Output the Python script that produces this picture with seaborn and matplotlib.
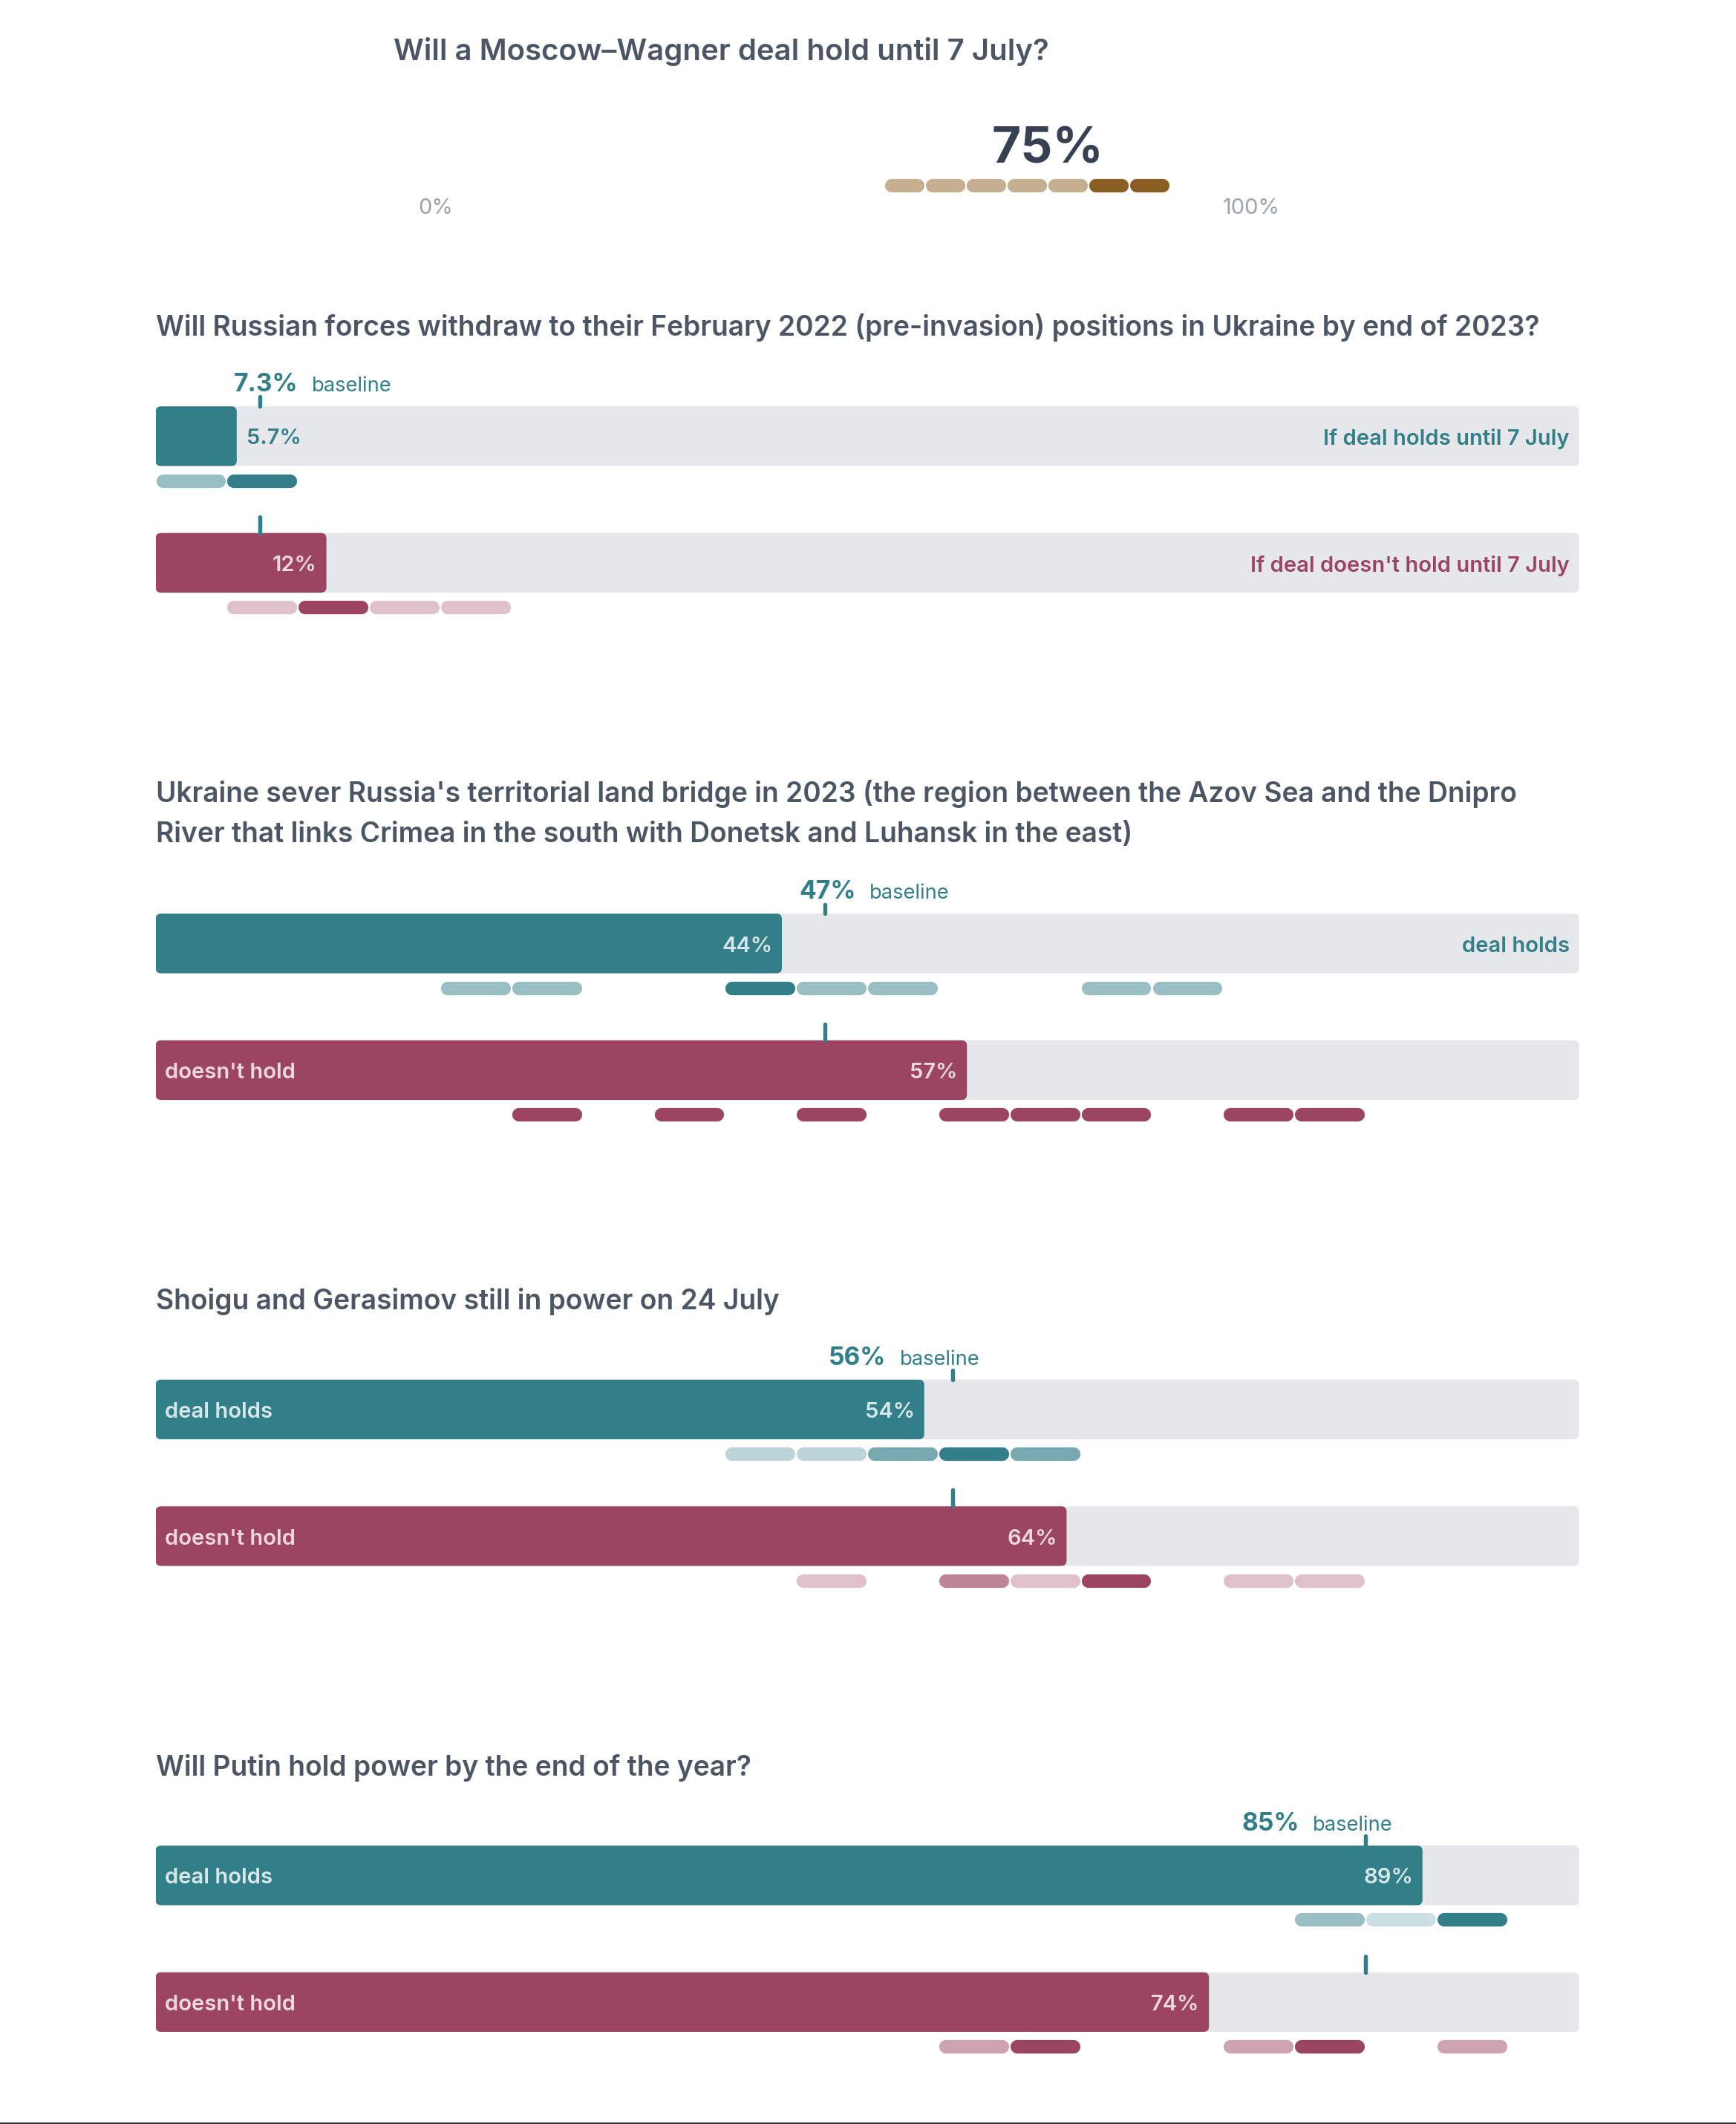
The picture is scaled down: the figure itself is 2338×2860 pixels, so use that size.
import numpy as np
import pandas as pd
import matplotlib
matplotlib.use("Agg")
from matplotlib import pyplot as plt
from matplotlib.patches import FancyBboxPatch
from matplotlib.lines import Line2D
from matplotlib.colors import to_rgb
from matplotlib.transforms import blended_transform_factory
import seaborn as sns

# Data

top_title = "Will a Moscow\u2013Wagner deal hold until 7 July?"
top_value = 75
top_bins = [55, 60, 65, 70, 75, 80, 85]
top_counts = [1, 1, 1, 1, 1, 2, 2]

titles = [
    "Will Russian forces withdraw to their February 2022 (pre-invasion) positions in Ukraine by end of 2023?",
    "Ukraine sever Russia's territorial land bridge in 2023 (the region between the Azov Sea and the Dnipro\n"
    "River that links Crimea in the south with Donetsk and Luhansk in the east)",
    "Shoigu and Gerasimov still in power on 24 July",
    "Will Putin hold power by the end of the year?",
]
baselines = [7.3, 47, 56, 85]
baseline_labels = ["7.3%", "47%", "56%", "85%"]
holds_values = [5.7, 44, 54, 89]
holds_value_labels = ["5.7%", "44%", "54%", "89%"]
nohold_values = [12, 57, 64, 74]
nohold_value_labels = ["12%", "57%", "64%", "74%"]
holds_names = ["If deal holds until 7 July", "deal holds", "deal holds", "deal holds"]
nohold_names = ["If deal doesn't hold until 7 July", "doesn't hold", "doesn't hold", "doesn't hold"]

# forecaster estimates, binned in 5% steps (bin start, count)
holds_bins = [[0, 5], [20, 25, 40, 45, 50, 65, 70], [40, 45, 50, 55, 60], [80, 85, 90]]
holds_counts = [[1, 2], [1, 1, 2, 1, 1, 1, 1], [1, 1, 2, 3, 2], [2, 1, 4]]
nohold_bins = [[5, 10, 15, 20], [25, 35, 45, 55, 60, 65, 75, 80],
               [45, 55, 60, 65, 75, 80], [55, 60, 75, 80, 90]]
nohold_counts = [[1, 3, 1, 1], [1, 1, 1, 1, 1, 1, 1, 1],
                 [1, 2, 1, 3, 1, 1], [1, 2, 1, 2, 1]]

# Styling

TEAL = "#337f89"
MAROON = "#9c4562"
TAN = "#8b5e23"
TRACK = "#e5e7eb"
TITLE_C = "#4b5563"
BIG_C = "#374151"
AXIS_C = "#9ca3af"
ON_TEAL = "#d8e7e9"
ON_MAROON = "#ecd8de"

sns.set_theme(style="white")
plt.rcParams["font.family"] = ["Inter", "DejaVu Sans"]

W_REF, H_REF = 1283, 1568          # layout grid (reference px)
fig = plt.figure(figsize=(23.38, 28.60), dpi=100)
FIG_W = fig.get_figwidth() * fig.dpi
PX = FIG_W / W_REF                 # layout px -> output px
PT = PX * 72 / fig.dpi             # layout px -> points


def fx(x):
    return x / W_REF


def fy(y):
    return 1 - y / H_REF


def tint(color, a):
    r = np.array(to_rgb(color))
    return tuple(1 - a * (1 - r))


def ax_units(ax):
    pos = ax.get_position()
    w = pos.width * FIG_W
    h = pos.height * fig.get_figheight() * fig.dpi
    x0, x1 = ax.get_xlim()
    y0, y1 = ax.get_ylim()
    return abs(x1 - x0) / w, abs(y1 - y0) / h


def pills(ax, bins, counts, y, color, h_px=10):
    ux, _ = ax_units(ax)
    cap = h_px / 2 * PX * ux
    gap = 0.5 * PX * ux
    mx = max(counts)
    for b, c in zip(bins, counts):
        ax.plot([b + gap + cap, b + 5 - gap - cap], [y, y], color=tint(color, c / mx),
                lw=h_px * PT, solid_capstyle="round", zorder=3)


def round_bars(ax, r_px=4):
    ux, uy = ax_units(ax)
    for p in list(ax.patches):
        fb = FancyBboxPatch((p.get_x(), p.get_y()), p.get_width(), p.get_height(),
                            boxstyle=f"round,pad=0,rounding_size={r_px * PX * ux}",
                            mutation_aspect=uy / ux, fc=p.get_facecolor(), ec="none",
                            zorder=p.get_zorder())
        p.remove()
        ax.add_patch(fb)


# Top question

fig.text(fx(291), fy(38), top_title, fontsize=22 * PT, fontweight="semibold",
         color=TITLE_C, va="center", ha="left")
ax0 = fig.add_axes([fx(322), fy(157), fx(925) - fx(322), (157 - 117) / H_REF])
ax0.set_xlim(0, 100)
ax0.set_ylim(-1, 1)
ax0.set_axis_off()
pills(ax0, top_bins, top_counts, 0, TAN, h_px=10)
tr0 = blended_transform_factory(ax0.transData, fig.transFigure)
ax0.text(top_value, fy(111), f"{top_value}%", transform=tr0, fontsize=37 * PT,
         fontweight="bold", color=BIG_C, ha="center", va="center")
for v in [0, 100]:
    ax0.text(v, fy(154), f"{v}%", transform=tr0, fontsize=16 * PT, color=AXIS_C,
             ha="center", va="center")

# Conditional questions

row0_y = [322, 696.5, 1040.5, 1384.5]
title_y = [[242], [586, 616], [961], [1305]]
ROW = 93.5
BAR_H = 44 / ROW
rend = fig.canvas.get_renderer()

for i in range(4):
    for line, ty in zip(titles[i].split("\n"), title_y[i]):
        fig.text(fx(115), fy(ty), line, fontsize=20.4 * PT, fontweight="semibold",
                 color=TITLE_C, va="center", ha="left")

    top = row0_y[i] - 0.75 * ROW
    bot = row0_y[i] + 1.5 * ROW
    ax = fig.add_axes([fx(115), fy(bot), fx(1167) - fx(115), (bot - top) / H_REF])

    df = pd.DataFrame({
        "scenario": ["holds", "no"],
        "value": [holds_values[i], nohold_values[i]],
        "track": [100, 100],
    })
    sns.barplot(data=df, x="track", y="scenario", orient="h", color=TRACK,
                width=BAR_H, errorbar=None, ax=ax, saturation=1)
    sns.barplot(data=df, x="value", y="scenario", orient="h", hue="scenario",
                palette=[TEAL, MAROON], width=BAR_H, errorbar=None, ax=ax,
                legend=False, saturation=1)
    ax.set_xlim(0, 100)
    ax.set_ylim(1.5, -0.75)
    ax.set_axis_off()
    round_bars(ax, 4)
    ux, uy = ax_units(ax)
    pad = 7 * PX * ux
    dy = 2 / ROW  # small downward nudge for centred labels

    # baseline ticks
    b = baselines[i]
    ax.plot([b, b], [-BAR_H / 2 - 7 / ROW, -BAR_H / 2], color=TEAL, lw=3 * PT,
            solid_capstyle="round", zorder=1)
    ax.plot([b, b], [1 - BAR_H / 2 - 12 / ROW, 1 - BAR_H / 2], color=TEAL, lw=3 * PT,
            solid_capstyle="round", zorder=1)

    # baseline label
    ty = -BAR_H / 2 - 11 / ROW
    if b < 50:
        t1 = ax.text(b - 19 * PX * ux, ty, baseline_labels[i], fontsize=18.5 * PT,
                     fontweight="bold", color=TEAL, ha="left", va="baseline")
        x_end = ax.transData.inverted().transform(t1.get_window_extent(rend))[1][0]
        ax.text(x_end + 10 * PX * ux, ty, "baseline", fontsize=15 * PT, color=TEAL,
                ha="left", va="baseline")
    else:
        t2 = ax.text(b + 20 * PX * ux, ty, "baseline", fontsize=15 * PT, color=TEAL,
                     ha="right", va="baseline")
        x_start = ax.transData.inverted().transform(t2.get_window_extent(rend))[0][0]
        ax.text(x_start - 10 * PX * ux, ty, baseline_labels[i], fontsize=18.5 * PT,
                fontweight="bold", color=TEAL, ha="right", va="baseline")

    rows = [
        (0, holds_values[i], holds_value_labels[i], holds_names[i], TEAL, ON_TEAL,
         holds_bins[i], holds_counts[i]),
        (1, nohold_values[i], nohold_value_labels[i], nohold_names[i], MAROON, ON_MAROON,
         nohold_bins[i], nohold_counts[i]),
    ]
    for r, val, vlab, name, col, oncol, bins, counts in rows:
        # value label
        if val < 8:
            ax.text(val + pad, r + dy, vlab, fontsize=16 * PT, fontweight="semibold",
                    color=col, ha="left", va="center", zorder=4)
        else:
            ax.text(val - pad, r + dy, vlab, fontsize=16 * PT, fontweight="semibold",
                    color=oncol, ha="right", va="center", zorder=4)
        # scenario name
        if val >= 50:
            ax.text(pad, r + dy, name, fontsize=16 * PT, fontweight="semibold",
                    color=oncol, ha="left", va="center", zorder=4)
        else:
            ax.text(100 - pad, r + dy, name, fontsize=16 * PT, fontweight="semibold",
                    color=col, ha="right", va="center", zorder=4)
        pills(ax, bins, counts, r + 33 / ROW, col)

fig.add_artist(Line2D([0, 1], [0.0004, 0.0004], transform=fig.transFigure,
                      color="#333333", lw=1.5))

fig.savefig("out.png", dpi=100)
